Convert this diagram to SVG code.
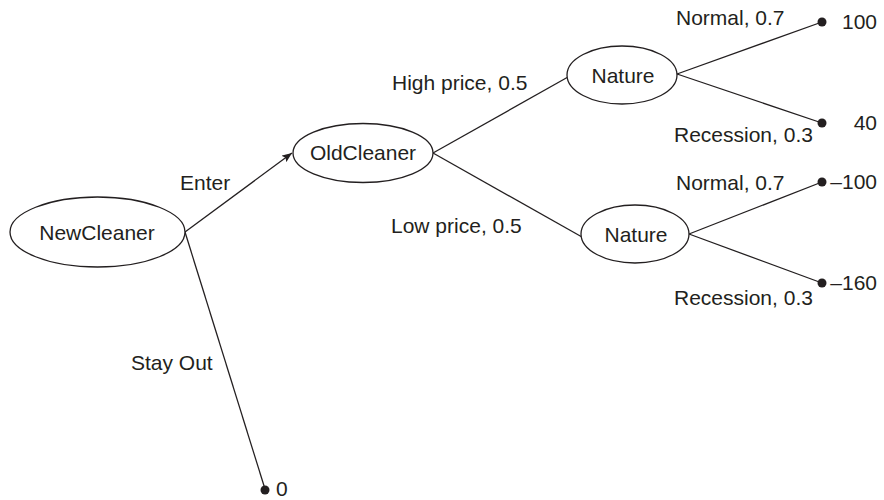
<svg xmlns="http://www.w3.org/2000/svg" width="884" height="500" viewBox="0 0 884 500">
<style>
text{font-family:"Liberation Sans",Arial,sans-serif;font-size:21px;fill:#231f20}
.node ellipse{fill:#fff;stroke:#231f20;stroke-width:1.3}
.node text{text-anchor:middle}
.edges line{stroke:#231f20;stroke-width:1.3}
.dot{fill:#231f20}
.num{text-anchor:end}
</style>
<defs>
<marker id="arr" viewBox="0 0 10 8" refX="10" refY="4" markerWidth="10" markerHeight="8" markerUnits="userSpaceOnUse" orient="auto">
<path d="M0,0 L10,4 L0,8 L2,4 Z" fill="#231f20"/>
</marker>
</defs>
<rect width="884" height="500" fill="#fff"/>
<g class="edges">
<line x1="185" y1="232" x2="292" y2="153" marker-end="url(#arr)"/>
<line x1="185" y1="232" x2="265" y2="489"/>
<line x1="433" y1="153" x2="568" y2="77"/>
<line x1="433" y1="153" x2="582" y2="237"/>
<line x1="677" y1="74" x2="822" y2="22"/>
<line x1="677" y1="74" x2="822" y2="123"/>
<line x1="689" y1="234" x2="822" y2="182"/>
<line x1="689" y1="234" x2="822" y2="283"/>
</g>
<g id="newcleaner" class="node">
<ellipse cx="97.5" cy="232" rx="87.5" ry="35"/>
<text x="97" y="240">NewCleaner</text>
</g>
<g id="oldcleaner" class="node">
<ellipse cx="363" cy="153" rx="70" ry="29.5"/>
<text x="363" y="160">OldCleaner</text>
</g>
<g id="nature1" class="node">
<ellipse cx="622" cy="75" rx="55" ry="29"/>
<text x="623" y="83">Nature</text>
</g>
<g id="nature2" class="node">
<ellipse cx="635" cy="234" rx="54" ry="29"/>
<text x="636" y="242">Nature</text>
</g>
<g id="leaf0"><circle class="dot" cx="265" cy="490" r="4.5"/><text x="276" y="496">0</text></g>
<g id="leaf100"><circle class="dot" cx="822" cy="22" r="4.5"/><text class="num" x="877" y="29">100</text></g>
<g id="leaf40"><circle class="dot" cx="822" cy="123" r="4.5"/><text class="num" x="877" y="130">40</text></g>
<g id="leafm100"><circle class="dot" cx="822" cy="182" r="4.5"/><text class="num" x="877" y="189">–100</text></g>
<g id="leafm160"><circle class="dot" cx="822" cy="283" r="4.5"/><text class="num" x="877" y="290">–160</text></g>
<g id="labels">
<text x="180" y="190">Enter</text>
<text x="131" y="370">Stay Out</text>
<text x="392" y="90">High price, 0.5</text>
<text x="391" y="233">Low price, 0.5</text>
<text x="676" y="25">Normal, 0.7</text>
<text x="674" y="142">Recession, 0.3</text>
<text x="676" y="190">Normal, 0.7</text>
<text x="674" y="305">Recession, 0.3</text>
</g>
</svg>
